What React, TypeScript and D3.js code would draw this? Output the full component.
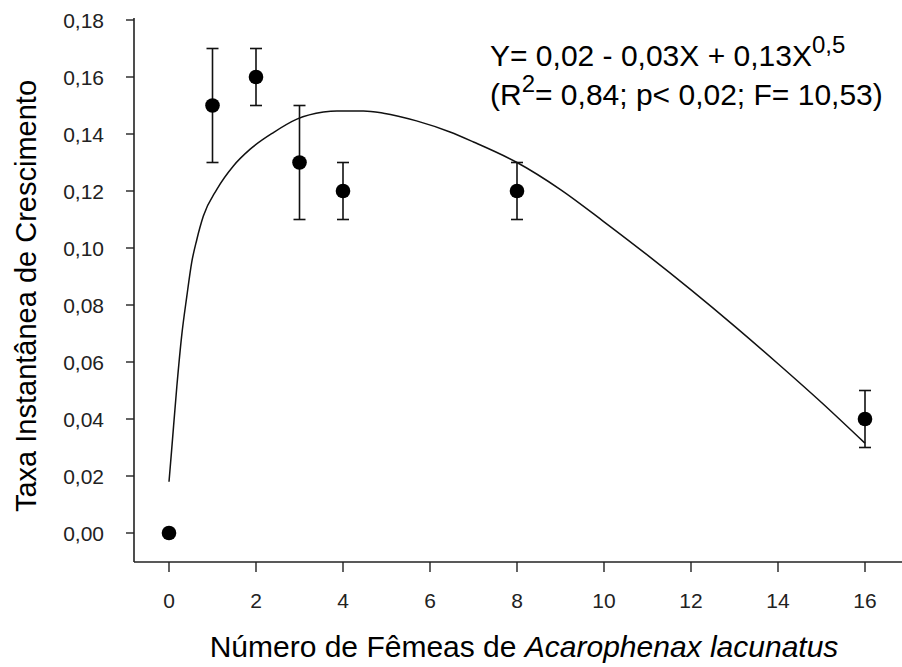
import React from "react";
import * as d3 from "d3";

// Observed means and standard-error limits
const females = [0, 1, 2, 3, 4, 8, 16];
const growthRate = [0.0, 0.15, 0.16, 0.13, 0.12, 0.12, 0.04];
const errLow = [null, 0.13, 0.15, 0.11, 0.11, 0.11, 0.03];
const errHigh = [null, 0.17, 0.17, 0.15, 0.13, 0.13, 0.05];

// Fitted regression curve, sampled along X
const fitX = [0, 0.06, 0.18, 0.29, 0.41, 0.52, 0.64, 0.79, 1.1, 1.48, 1.86, 2.4, 2.94, 3.55, 3.86, 4.47, 4.93, 5.69, 6.46, 7.0, 8, 9, 10, 11, 12, 13, 14, 15, 16];
const fitY = [0.018, 0.029, 0.0514, 0.069, 0.0831, 0.0948, 0.103, 0.1112, 0.1206, 0.1288, 0.1346, 0.1405, 0.1452, 0.1477, 0.1481, 0.1481, 0.1473, 0.1446, 0.1407, 0.1372, 0.13, 0.1205, 0.1092, 0.0975, 0.0853, 0.0726, 0.0594, 0.0458, 0.0315];

const xTicks = [0, 2, 4, 6, 8, 10, 12, 14, 16];
const yTicks = [0, 0.02, 0.04, 0.06, 0.08, 0.1, 0.12, 0.14, 0.16, 0.18];

const W = 902;
const H = 667;
const axisX = 134;
const axisY = 562;

const x = d3.scaleLinear().domain([0, 16]).range([169, 865]);
const y = d3.scaleLinear().domain([0, 0.18]).range([533, 20]);

const fmt = (v: number) => v.toFixed(2).replace(".", ",");

const font = "Arial, 'Liberation Sans', sans-serif";

export default function App() {
  const fitPts = fitX.map((v, i) => [v, fitY[i]] as [number, number]);
  const line = d3
    .line<[number, number]>()
    .x((d) => x(d[0]))
    .y((d) => y(d[1]))
    .curve(d3.curveMonotoneX);

  return (
    <svg width={W} height={H} style={{ position: "absolute", left: 0, top: 0, background: "#fff" }}>
      <rect x={0} y={0} width={W} height={H} fill="#fff" />
      {/* axes */}
      <line x1={axisX} y1={18} x2={axisX} y2={axisY} stroke="#222" strokeWidth={1.6} />
      <line x1={axisX} y1={axisY} x2={W} y2={axisY} stroke="#222" strokeWidth={1.6} />

      {yTicks.map((t) => (
        <g key={"y" + t}>
          <line x1={126} x2={axisX} y1={y(t)} y2={y(t)} stroke="#222" strokeWidth={1.4} />
          <text
            x={104}
            y={y(t)}
            textAnchor="end"
            dominantBaseline="central"
            fontFamily={font}
            fontSize={21}
            fill="#222"
          >
            {fmt(t)}
          </text>
        </g>
      ))}

      {xTicks.map((t) => (
        <g key={"x" + t}>
          <line x1={x(t)} x2={x(t)} y1={axisY} y2={572} stroke="#222" strokeWidth={1.4} />
          <text
            x={x(t)}
            y={600}
            textAnchor="middle"
            dominantBaseline="central"
            fontFamily={font}
            fontSize={21}
            fill="#222"
          >
            {t}
          </text>
        </g>
      ))}

      {/* fitted curve */}
      <path d={line(fitPts) ?? ""} fill="none" stroke="#111" strokeWidth={1.5} />

      {/* error bars */}
      {females.map((f, i) =>
        errLow[i] == null ? null : (
          <g key={"e" + f} stroke="#111" strokeWidth={1.6}>
            <line x1={x(f)} x2={x(f)} y1={y(errLow[i] as number)} y2={y(errHigh[i] as number)} />
            <line x1={x(f) - 6} x2={x(f) + 6} y1={y(errLow[i] as number)} y2={y(errLow[i] as number)} />
            <line x1={x(f) - 6} x2={x(f) + 6} y1={y(errHigh[i] as number)} y2={y(errHigh[i] as number)} />
          </g>
        )
      )}

      {/* means */}
      {females.map((f, i) => (
        <circle key={"p" + f} cx={x(f)} cy={y(growthRate[i])} r={7.3} fill="#000" />
      ))}

      {/* regression annotation */}
      <text x={490} y={66} fontFamily={font} fontSize={30} fill="#000">
        Y= 0,02 - 0,03X + 0,13X
        <tspan dy={-13} fontSize={24}>0,5</tspan>
      </text>
      <text x={490} y={105} fontFamily={font} fontSize={30} fill="#000">
        (R<tspan dy={-13} fontSize={24}>2</tspan>
        <tspan dy={13}>= 0,84; p&lt; 0,02; F= 10,53)</tspan>
      </text>

      {/* axis titles */}
      <text
        x={0}
        y={0}
        transform={`translate(36 296) rotate(-90)`}
        textAnchor="middle"
        fontFamily={font}
        fontSize={29}
        fill="#000"
      >
        Taxa Instantânea de Crescimento
      </text>
      <text x={524} y={657} textAnchor="middle" fontFamily={font} fontSize={30} fill="#000">
        Número de Fêmeas de <tspan fontStyle="italic">Acarophenax lacunatus</tspan>
      </text>
    </svg>
  );
}
